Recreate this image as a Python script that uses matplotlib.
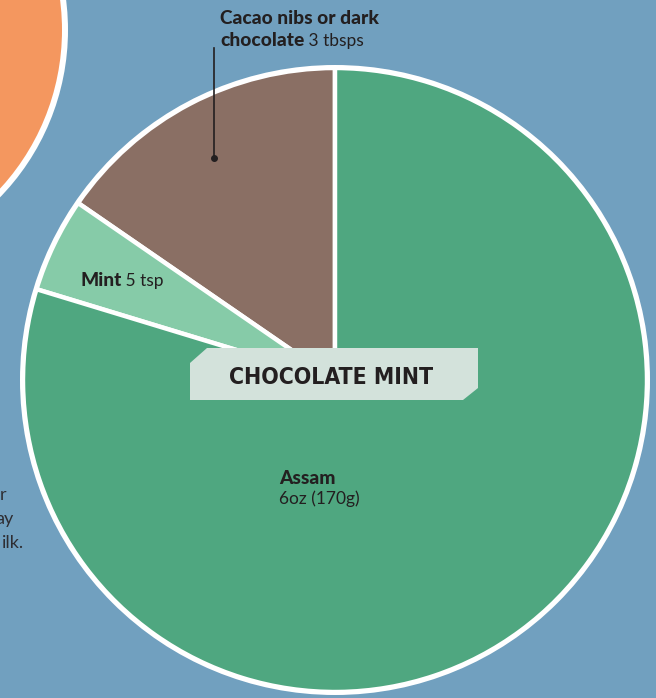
import matplotlib
matplotlib.use("Agg")
import matplotlib.pyplot as plt
from matplotlib.patches import Circle, Polygon

# ---- data ----
categories = ["Cacao nibs or dark chocolate", "Mint", "Assam"]
shares = [15.4, 4.9, 79.7]          # share of the pie (degrees ratio)
amount_labels = ["3 tbsps", "5 tsp", "6oz (170g)"]
title = "CHOCOLATE MINT"
side_text = ["r", "ay", "ilk."]
colors = ["#8a6f64", "#86cba8", "#4fa780"]

W, H = 656, 698
BG = "#71a0bf"
TXT = "#231f20"

fig = plt.figure(figsize=(W / 100, H / 100), dpi=100, facecolor=BG)
ax = fig.add_axes([0, 0, 1, 1])
ax.set_facecolor(BG)

def Y(y):
    return H - y

# orange circle top-left
ax.add_patch(Circle((-172, Y(30)), 240, facecolor="white", edgecolor="none", zorder=1))
ax.add_patch(Circle((-172, Y(30)), 234, facecolor="#f4975f", edgecolor="none", zorder=2))

# pie
cx, cy, r = 335, Y(380), 312
ax.add_patch(Circle((cx, cy), r + 3, facecolor="white", edgecolor="none", zorder=2))
wedges, _ = ax.pie(shares, colors=colors, startangle=90, counterclock=True,
                   center=(cx, cy), radius=r,
                   wedgeprops=dict(edgecolor="white", linewidth=3.2))
for w in wedges:
    w.set_zorder(3)

# label box with chamfered corners
x0, x1, y0, y1 = 190, 478, 348, 400
c = 15
box = Polygon([(x0, Y(y0 + c)), (x0 + c + 2, Y(y0)), (x1, Y(y0)), (x1, Y(y1 - 12)),
               (x1 - c, Y(y1)), (x0, Y(y1))], closed=True,
              facecolor="#d3e2db", edgecolor="none", zorder=5)
ax.add_patch(box)
ax.text(331, Y(377), title, ha="center", va="center",
        fontsize=16.5, fontweight="bold", fontstretch="condensed", color=TXT,
        family=["DejaVu Sans"], zorder=6)

lab_family = ["Lato", "DejaVu Sans"]
fsb = 13.8
fsr = 12.5

# cacao label
ax.text(220, Y(19), "Cacao nibs or dark", ha="left", va="center", fontsize=fsb,
        fontweight="black", color=TXT, family=lab_family, zorder=6)
t = ax.text(220, Y(41), "chocolate", ha="left", va="center", fontsize=fsb,
            fontweight="black", color=TXT, family=lab_family, zorder=6)
ax.annotate(" " + amount_labels[0], xycoords=t, xy=(1, 0.5), va="center", ha="left",
            fontsize=fsr, color=TXT, family=lab_family, zorder=6)
ax.plot([214, 214], [Y(48), Y(158)], color=TXT, lw=1.2, zorder=6)
ax.plot([214], [Y(158)], "o", color=TXT, ms=4, zorder=6)

# mint label
t = ax.text(80, Y(281), "Mint", ha="left", va="center", fontsize=fsb,
            fontweight="black", color=TXT, family=lab_family, zorder=6)
ax.annotate(" " + amount_labels[1], xycoords=t, xy=(1, 0.5), va="center", ha="left",
            fontsize=fsr, color=TXT, family=lab_family, zorder=6)

# assam label
ax.text(279, Y(478), "Assam", ha="left", va="center", fontsize=fsb,
        fontweight="black", color=TXT, family=lab_family, zorder=6)
ax.text(279, Y(499), amount_labels[2], ha="left", va="center", fontsize=fsr,
        color=TXT, family=lab_family, zorder=6)

# partially visible side text (cut by the left edge, as in the original)
for s, xr, yy in zip(side_text, [6, 14, 24], [495, 519, 543]):
    ax.text(xr, Y(yy), s, ha="right", va="center", fontsize=13,
            color="#2e2e33", family=lab_family, zorder=6)

ax.set_xlim(0, W)
ax.set_ylim(0, H)
ax.set_aspect("auto")
ax.set_axis_off()

fig.savefig("out.png", dpi=100, facecolor=BG)
